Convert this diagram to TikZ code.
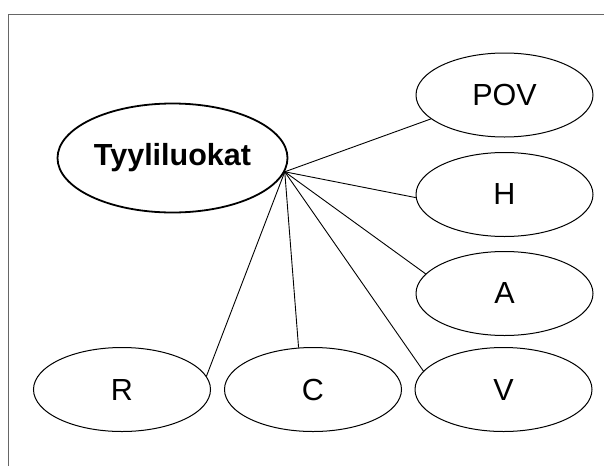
\documentclass[tikz,border=0pt]{standalone}
\usepackage{fontspec}
\setmainfont{Liberation Sans}
\usetikzlibrary{shapes.geometric}
\begin{document}
\begin{tikzpicture}[x=1pt,y=-1pt,
  oval/.style={ellipse,draw=black,line width=1pt,inner sep=0pt,minimum width=177pt,minimum height=84pt,font=\fontsize{30.5}{36}\selectfont},
  hubov/.style={oval,line width=1.8pt,minimum width=230pt,minimum height=109pt,font=\fontsize{30.5}{36}\selectfont\bfseries},
  link/.style={draw=black,line width=0.9pt},
  frame/.style={draw=black!60,line width=1pt}]
\useasboundingbox (0,0) rectangle (604,466);
\coordinate (f1) at (8,466);
\coordinate (f2) at (8,14);
\coordinate (f3) at (604,14);
\draw[frame] (f1) -- (f2) -- (f3);
\node[hubov] (t) at (172.5,158) {Tyyliluokat};
\node[oval] (pov) at (504.5,95) {POV};
\node[oval] (h) at (504.5,194.5) {H};
\node[oval] (a) at (504.5,293.5) {A};
\node[oval] (v) at (503.5,389.5) {V};
\node[oval] (r) at (122,389.5) {R};
\node[oval] (c) at (313,389.5) {C};
\draw[link] (t.353) -- (pov.198);
\draw[link] (t.353) -- (h.182);
\draw[link] (t.353) -- (a.166);
\draw[link] (t.353) -- (v.167);
\draw[link] (t.353) -- (c.109);
\draw[link] (t.353) -- (r.9);
\end{tikzpicture}
\end{document}
